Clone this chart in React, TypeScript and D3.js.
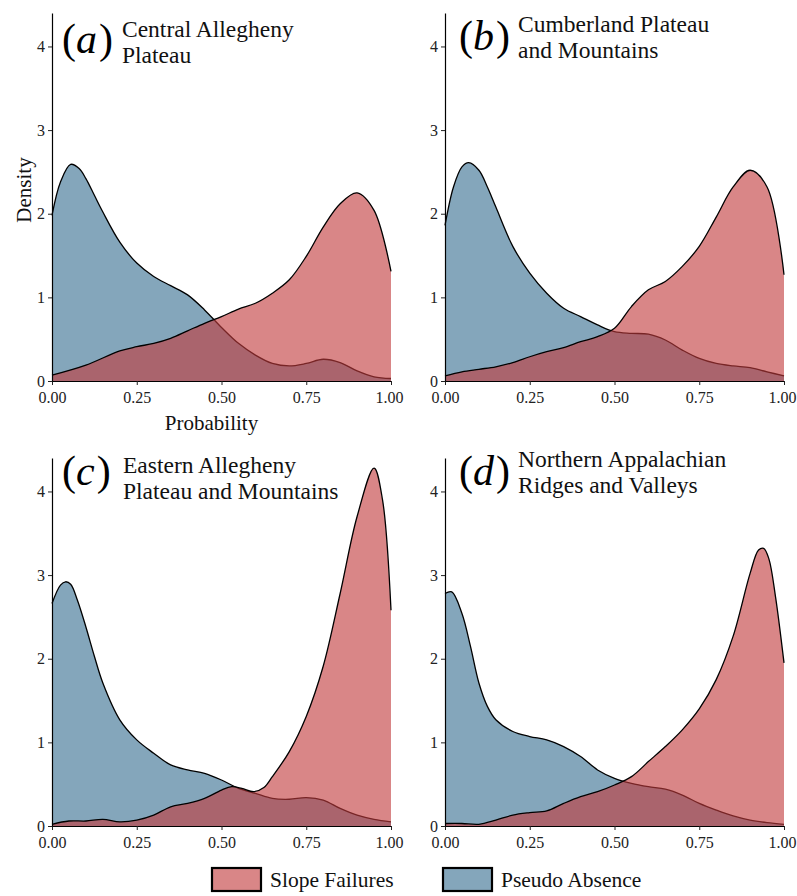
import React, { useEffect, useRef } from 'react';
import * as d3 from 'd3';

// density curves: [probability, density]
const aFailures = [
  [0, 0.07], [0.1, 0.19], [0.2, 0.36], [0.25, 0.41], [0.3, 0.45], [0.35, 0.51], [0.4, 0.6],
  [0.45, 0.69], [0.5, 0.77], [0.55, 0.86], [0.6, 0.93], [0.65, 1.05], [0.7, 1.21], [0.75, 1.49],
  [0.8, 1.84], [0.85, 2.12], [0.9, 2.25], [0.95, 2.04], [1, 1.31]
];
const aAbsence = [
  [0, 1.98], [0.025, 2.38], [0.055, 2.59], [0.08, 2.54], [0.1, 2.42], [0.125, 2.22], [0.15, 2.02],
  [0.2, 1.66], [0.25, 1.41], [0.3, 1.25], [0.35, 1.14], [0.4, 1.03], [0.45, 0.85], [0.5, 0.64],
  [0.55, 0.45], [0.6, 0.31], [0.65, 0.21], [0.7, 0.18], [0.75, 0.21], [0.8, 0.26], [0.85, 0.22],
  [0.9, 0.12], [0.95, 0.05], [1, 0.03]
];
const bFailures = [
  [0, 0.06], [0.05, 0.11], [0.1, 0.14], [0.15, 0.17], [0.2, 0.22], [0.25, 0.29], [0.3, 0.35],
  [0.35, 0.4], [0.4, 0.47], [0.45, 0.53], [0.5, 0.63], [0.55, 0.89], [0.6, 1.09], [0.65, 1.19],
  [0.7, 1.37], [0.75, 1.61], [0.8, 1.96], [0.85, 2.32], [0.9, 2.52], [0.95, 2.32], [1, 1.27]
];
const bAbsence = [
  [0, 1.86], [0.025, 2.32], [0.05, 2.56], [0.07, 2.61], [0.1, 2.52], [0.125, 2.32], [0.15, 2.08],
  [0.2, 1.61], [0.25, 1.29], [0.3, 1.05], [0.35, 0.87], [0.4, 0.77], [0.45, 0.67], [0.5, 0.59],
  [0.55, 0.57], [0.6, 0.56], [0.65, 0.49], [0.7, 0.37], [0.75, 0.27], [0.8, 0.21], [0.85, 0.18],
  [0.9, 0.16], [0.95, 0.11], [1, 0.06]
];
const cFailures = [
  [0, 0.02], [0.05, 0.06], [0.1, 0.06], [0.15, 0.08], [0.2, 0.05], [0.25, 0.07], [0.3, 0.13],
  [0.35, 0.23], [0.4, 0.27], [0.45, 0.33], [0.5, 0.43], [0.53, 0.47], [0.56, 0.45], [0.595, 0.41],
  [0.625, 0.46], [0.65, 0.59], [0.7, 0.89], [0.75, 1.31], [0.8, 1.91], [0.85, 2.78], [0.9, 3.7],
  [0.95, 4.28], [0.975, 3.9], [1, 2.58]
];
const cAbsence = [
  [0, 2.66], [0.025, 2.88], [0.04, 2.92], [0.055, 2.89], [0.075, 2.7], [0.1, 2.38], [0.125, 2.03],
  [0.15, 1.71], [0.2, 1.27], [0.25, 1.03], [0.3, 0.87], [0.35, 0.73], [0.4, 0.67], [0.45, 0.63],
  [0.5, 0.55], [0.55, 0.45], [0.6, 0.39], [0.65, 0.33], [0.7, 0.32], [0.75, 0.34], [0.8, 0.31],
  [0.85, 0.21], [0.9, 0.13], [0.95, 0.08], [1, 0.05]
];
const dFailures = [
  [0, 0.03], [0.05, 0.03], [0.1, 0.02], [0.15, 0.07], [0.2, 0.13], [0.25, 0.16], [0.3, 0.18],
  [0.35, 0.27], [0.4, 0.35], [0.45, 0.41], [0.5, 0.49], [0.55, 0.59], [0.6, 0.77], [0.65, 0.95],
  [0.7, 1.15], [0.75, 1.4], [0.8, 1.75], [0.85, 2.27], [0.9, 3.02], [0.925, 3.3], [0.94, 3.32],
  [0.955, 3.2], [0.975, 2.74], [1, 1.95]
];
const dAbsence = [
  [0, 2.78], [0.02, 2.8], [0.05, 2.54], [0.075, 2.15], [0.1, 1.71], [0.125, 1.43], [0.15, 1.27],
  [0.2, 1.13], [0.25, 1.07], [0.3, 1.03], [0.35, 0.95], [0.4, 0.83], [0.45, 0.67], [0.5, 0.57],
  [0.55, 0.51], [0.6, 0.47], [0.65, 0.44], [0.7, 0.37], [0.75, 0.27], [0.8, 0.19], [0.85, 0.12],
  [0.9, 0.07], [0.95, 0.04], [1, 0.02]
];

const panelTags = ['a', 'b', 'c', 'd'];
const panelTitles = [
  ['Central Allegheny', 'Plateau'],
  ['Cumberland Plateau', 'and Mountains'],
  ['Eastern Allegheny', 'Plateau and Mountains'],
  ['Northern Appalachian', 'Ridges and Valleys']
];
const failureSeries = [aFailures, bFailures, cFailures, dFailures];
const absenceSeries = [aAbsence, bAbsence, cAbsence, dAbsence];

const xTicks = [0, 0.25, 0.5, 0.75, 1];
const yTicks = [0, 1, 2, 3, 4];
const legendLabels = ['Slope Failures', 'Pseudo Absence'];

const FONT = '"Liberation Serif", "Times New Roman", serif';
const RED = 'rgb(193,60,62)';
const BLUE = '#84a6bb';

// panel frames: left edge of axis, zero line, and title positions
const layout = [
  { left: 52, zero: 381, tagY: 53, tagX: 62, titleX: 122, titleY: 37 },
  { left: 445, zero: 381, tagY: 50, tagX: 459, titleX: 518, titleY: 32 },
  { left: 52, zero: 826, tagY: 485, tagX: 62, titleX: 123, titleY: 473 },
  { left: 445, zero: 826, tagY: 485, tagX: 459, titleX: 518, titleY: 467 }
];
const plotW = 339;
const plotH = 368;

const App = () => {
  const svgRef = useRef(null);

  useEffect(() => {
    const svg = d3.select(svgRef.current);
    svg.selectAll('*').remove();

    layout.forEach((L, i) => {
      const x = d3.scaleLinear().domain([0, 1]).range([L.left, L.left + plotW]);
      const y = d3.scaleLinear().domain([0, 4.4]).range([L.zero, L.zero - plotH]);
      const g = svg.append('g');
      const curve = d3.curveCatmullRom.alpha(0.5);

      const area = d3.area()
        .x(d => x(d[0]))
        .y0(y(0))
        .y1(d => y(d[1]))
        .curve(curve);
      const line = d3.line()
        .x(d => x(d[0]))
        .y(d => y(d[1]))
        .curve(curve);

      g.append('path').attr('d', area(absenceSeries[i])).attr('fill', BLUE);
      g.append('path').attr('d', line(absenceSeries[i]))
        .attr('fill', 'none').attr('stroke', '#000').attr('stroke-width', 1.3);
      g.append('path').attr('d', area(failureSeries[i]))
        .attr('fill', RED).attr('fill-opacity', 0.62);
      g.append('path').attr('d', line(failureSeries[i]))
        .attr('fill', 'none').attr('stroke', '#000').attr('stroke-width', 1.3);

      const xAxis = g.append('g')
        .attr('transform', `translate(0, ${L.zero})`)
        .call(d3.axisBottom(x).tickValues(xTicks).tickFormat(d3.format('.2f')).tickSize(4).tickSizeOuter(0).tickPadding(7));
      const yAxis = g.append('g')
        .attr('transform', `translate(${L.left}, 0)`)
        .call(d3.axisLeft(y).tickValues(yTicks).tickFormat(d3.format('d')).tickSize(4).tickSizeOuter(0).tickPadding(3));

      [xAxis, yAxis].forEach(ax => {
        ax.attr('font-family', FONT).attr('font-size', 16);
        ax.selectAll('text').attr('fill', '#222');
        ax.select('.domain').attr('stroke', '#000').attr('stroke-width', 1.2);
        ax.selectAll('.tick line').attr('stroke', '#222');
      });
      // the last label hugs the page edge, as in the original
      xAxis.selectAll('.tick text').filter(d => d === 1).attr('dx', -2);

      // (a) style tag
      const tag = g.append('text')
        .attr('x', L.tagX).attr('y', L.tagY)
        .attr('font-family', FONT).attr('font-size', 42).attr('fill', '#000');
      tag.append('tspan').text('(');
      tag.append('tspan').attr('font-style', 'italic').text(panelTags[i]);
      tag.append('tspan').attr('dx', 2).text(')');

      panelTitles[i].forEach((t, k) => {
        g.append('text')
          .attr('x', L.titleX).attr('y', L.titleY + k * 25.5)
          .attr('font-family', FONT).attr('font-size', 23.5).attr('fill', '#111')
          .text(t);
      });
    });

    // axis titles only on the first panel
    svg.append('text')
      .attr('x', 52 + plotW / 2 - 10).attr('y', 430)
      .attr('text-anchor', 'middle')
      .attr('font-family', FONT).attr('font-size', 21).attr('fill', '#111')
      .text('Probability');
    svg.append('text')
      .attr('transform', 'translate(31, 190) rotate(-90)')
      .attr('text-anchor', 'middle')
      .attr('font-family', FONT).attr('font-size', 21).attr('fill', '#111')
      .text('Density');

    // legend
    const legendX = [212, 443];
    const legendFill = [RED, BLUE];
    legendLabels.forEach((label, k) => {
      svg.append('rect')
        .attr('x', legendX[k]).attr('y', 868).attr('width', 49).attr('height', 23)
        .attr('fill', legendFill[k]).attr('fill-opacity', k === 0 ? 0.62 : 1)
        .attr('stroke', '#000').attr('stroke-width', 2.2);
      svg.append('text')
        .attr('x', legendX[k] + 58).attr('y', 887)
        .attr('font-family', FONT).attr('font-size', 21.5).attr('fill', '#111')
        .text(label);
    });
  }, []);

  return (
    <svg ref={svgRef} width={797} height={896}
      style={{ position: 'absolute', left: 0, top: 0, background: '#fff' }} />
  );
};

export default App;
